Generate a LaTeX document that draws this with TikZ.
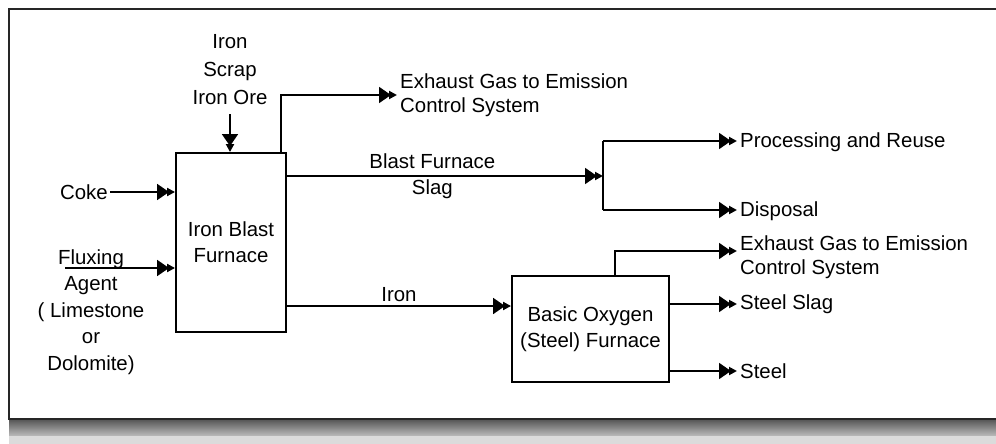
\documentclass[tikz,border=0pt]{standalone}
\usepackage{fontspec}
\setmainfont{Liberation Sans}
\usetikzlibrary{arrows.meta,calc}
\begin{document}
\begin{tikzpicture}[x=1pt,y=-1pt,
  every node/.style={font=\fontsize{20.4}{24}\selectfont},
  line/.style={line width=1.9pt, draw=black},
  arr/.style={line, -{Triangle[length=12pt,width=16pt,sep=-2pt]Triangle[length=8pt,width=8pt]}},
  box/.style={draw, line width=1.9pt, align=center, inner sep=0pt, font=\fontsize{20.4}{26}\selectfont},
  lbl/.style={inner sep=3pt, align=left, anchor=west},
  ctr/.style={inner sep=0pt, align=center}]
\useasboundingbox (0,0) rectangle (996,444);
\clip (0,0) rectangle (996,444);
% frame and shadow
\shade[top color=black!65, bottom color=black!12] (9,420) rectangle (996,442);
\fill[black!14] (9,436) rectangle (996,444);
\draw[line width=2.8pt, draw=black!85] (9,9) rectangle (1010,419);
% boxes
\node[box, minimum width=110pt, minimum height=179pt] (ibf) at (231,242.5) {Iron Blast\\Furnace};
\node[box, minimum width=157pt, minimum height=106pt] (bof) at (590.5,329) {Basic Oxygen\\(Steel) Furnace};
% inputs
\node[ctr, font=\fontsize{20.4}{28}\selectfont] (inp) at (230,70) {Iron\\Scrap\\Iron Ore};
\draw[arr] ([yshift=-9pt]inp.south) -- (inp.south |- ibf.north);
\node[inner sep=2pt, anchor=east] (coke) at (110,192) {Coke};
\draw[arr] (coke.east) -- (coke.east -| ibf.west);
\node[ctr, font=\fontsize{20.4}{26.5}\selectfont] (flux) at (91,312) {Fluxing\\Agent\\( Limestone\\or\\Dolomite)};
\coordinate (fluxin) at (65,268);
\draw[arr] (fluxin) -- (fluxin -| ibf.west);
% exhaust 1
\node[lbl] (ex1) at (397,95) {Exhaust Gas to Emission\\Control System};
\draw[arr] ([xshift=-6pt]ibf.north east) |- (ex1.west);
% slag
\coordinate (spl) at (603,176);
\coordinate (splt) at (603,141);
\coordinate (splb) at (603,210);
\draw[arr] (spl -| ibf.east) -- node[ctr, pos=0.46, font=\fontsize{20.4}{26}\selectfont] (slaglbl) {Blast Furnace\\Slag} (spl);
\draw[line] (splt) -- (splb);
\node[lbl] (proc) at (737,142) {Processing and Reuse};
\node[lbl] (disp) at (737,211) {Disposal};
\draw[arr] (splt) -- (proc.west |- splt);
\draw[arr] (splb) -- (disp.west |- splb);
% iron
\coordinate (ironend) at ([yshift=23pt]bof.west);
\draw[arr] (ironend -| ibf.east) -- node[above, inner sep=3pt] (ironlbl) {Iron} (ironend);
% BOF outputs
\node[lbl] (ex2) at (737,257) {Exhaust Gas to Emission\\Control System};
\coordinate (ex2in) at ([yshift=6pt]ex2.west);
\draw[arr] ([xshift=24.5pt]bof.north) |- (ex2in);
\node[lbl] (sslag) at (737,304) {Steel Slag};
\draw[arr] (bof.east |- sslag.west) -- (sslag.west);
\node[lbl] (steel) at (737,371) {Steel};
\draw[arr] (bof.east |- steel.west) -- (steel.west);
\end{tikzpicture}
\end{document}
